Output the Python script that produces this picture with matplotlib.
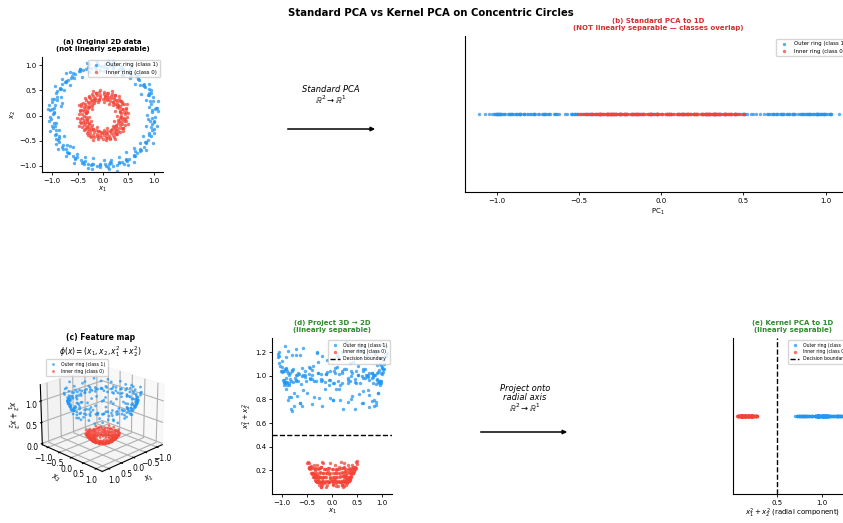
import numpy as np
import matplotlib
matplotlib.use("Agg")
import matplotlib.pyplot as plt

# hand-read points of the two rings (panel a)
outer_x1 = [1.03, 0.97, 1.04, 0.93, 0.98, 0.88, 0.90, 0.79, 0.80, 0.68, 0.66, 0.55, 0.52, 0.40, 0.36, 0.24, 0.19, 0.06,
            0.02, -0.10, -0.15, -0.28, -0.33, -0.45, -0.47, -0.60, -0.62, -0.73, -0.74, -0.85, -0.84, -0.93, -0.91, -1.00,
            -0.96, -1.05, -0.98, -1.02, -0.95, -0.99, -0.92, -0.87, -0.89, -0.78, -0.79, -0.69, -0.67, -0.55, -0.52, -0.41,
            -0.36, -0.23, -0.20, -0.05, 0.03, 0.10, 0.15, 0.28, 0.31, 0.45, 0.48, 0.60, 0.61, 0.74, 0.73, 0.84, 0.85, 0.94,
            0.91, 1.00, 0.96, 1.01,
            0.96, 1.02, 0.95, 0.99, 0.90, 0.91, 0.82, 0.81, 0.71, 0.69, 0.62, 0.52, 0.47, 0.37, 0.32, 0.20, 0.14, 0.03,
            -0.04, -0.12, -0.23, -0.29, -0.40, -0.45, -0.55, -0.61, -0.68, -0.72, -0.81, -0.83, -0.90, -0.90, -0.97, -0.95,
            -1.01, -0.97, -1.04, -0.97, -1.00, -0.93, -0.95, -0.86, -0.86, -0.80, -0.72, -0.70, -0.59, -0.55, -0.44, -0.40,
            -0.29, -0.22, -0.12, -0.06, 0.05, 0.12, 0.20, 0.31, 0.37, 0.46, 0.52, 0.62, 0.66, 0.72, 0.80, 0.82, 0.89, 0.90,
            0.97, 0.95, 1.00, 0.97,
            0.87, 1.09, 0.91, 1.08, 0.84, 0.95, 0.74, 0.90, 0.72, 0.62, 0.70, 0.53, 0.56, 0.38, 0.36, 0.22, 0.19, 0.08,
            0.02, -0.11, -0.14, -0.31, -0.27, -0.46, -0.41, -0.65, -0.58, -0.64, -0.80, -0.77, -0.95, -0.83, -1.01, -0.80,
            -1.06, -0.96,
            -0.89, -1.07, -0.93, -1.05, -0.86, -0.92, -0.76, -0.88, -0.70, -0.64, -0.73, -0.51, -0.58, -0.36, -0.38, -0.20,
            -0.21, -0.06,
            0.02, 0.11, 0.14, 0.27, 0.32, 0.42, 0.45, 0.61, 0.62, 0.60, 0.85, 0.73, 0.99, 0.79, 1.01, 0.84, 1.06, 0.92,
            -0.83, -0.60, 0.88, 0.15, -0.05, 0.40, -1.08, 1.07, -0.72, -0.92, 0.95, 0.50, -0.30, 0.10]
outer_x2 = [-0.02, 0.11, 0.15, 0.28, 0.36, 0.40, 0.53, 0.60, 0.62, 0.74, 0.79, 0.80, 0.90, 0.93, 0.91, 1.00, 0.95, 1.03,
            0.97, 1.01, 0.96, 1.02, 0.92, 0.88, 0.89, 0.84, 0.74, 0.69, 0.66, 0.55, 0.52, 0.44, 0.31, 0.27, 0.15, 0.10,
            0.03, -0.06, -0.20, -0.24, -0.37, -0.41, -0.48, -0.58, -0.66, -0.74, -0.75, -0.84, -0.83, -0.94, -0.91, -0.98,
            -0.96, -1.02, -0.97, -1.03, -0.95, -0.99, -0.92, -0.88, -0.90, -0.80, -0.78, -0.69, -0.66, -0.55, -0.53, -0.41,
            -0.35, -0.27, -0.16, -0.10,
            0.06, 0.12, 0.23, 0.29, 0.40, 0.45, 0.56, 0.59, 0.70, 0.72, 0.82, 0.86, 0.85, 0.95, 0.93, 0.99, 1.00, 1.02,
            0.98, 1.00, 0.95, 0.97, 0.90, 0.93, 0.83, 0.79, 0.70, 0.66, 0.63, 0.52, 0.48, 0.37, 0.32, 0.20,
            0.12, 0.06, -0.03, -0.15, -0.21, -0.29, -0.39, -0.45, -0.52, -0.63, -0.67, -0.72, -0.81, -0.86, -0.89, -0.92,
            -0.97, -0.96, -1.00, -0.98, -1.01, -0.97, -1.00, -0.94, -0.93, -0.86, -0.86, -0.81, -0.74, -0.70, -0.62, -0.52,
            -0.48, -0.39, -0.29, -0.23, -0.12, -0.05,
            0.01, 0.09, 0.16, 0.29, 0.30, 0.44, 0.43, 0.63, 0.60, 0.62, 0.83, 0.75, 0.97, 0.81, 0.99, 0.82, 1.08, 0.94,
            0.89, 1.06, 0.93, 1.05, 0.86, 0.93, 0.77, 0.87, 0.74, 0.60, 0.73, 0.51, 0.59, 0.36, 0.33, 0.25, 0.21, 0.05,
            -0.02, -0.11, -0.14, -0.31, -0.28, -0.47, -0.41, -0.66, -0.58, -0.60, -0.80, -0.77, -0.95, -0.83, -0.97, -0.84,
            -1.06, -0.96,
            -0.89, -1.07, -0.93, -1.10, -0.82, -0.97, -0.72, -0.92, -0.70, -0.64, -0.68, -0.55, -0.54, -0.40, -0.34, -0.20,
            -0.21, -0.10,
            0.18, -0.62, -0.07, -0.88, 0.90, 0.82, 0.12, 0.15, 0.84, -0.56, 0.50, -0.98, -1.05, 1.08]
inner_x1 = [0.44, 0.36, 0.42, 0.37, 0.40, 0.33, 0.37, 0.30, 0.33, 0.26, 0.28, 0.21, 0.22, 0.15, 0.16, 0.08, 0.09, 0.01,
            0.03, -0.06, -0.05, -0.12, -0.15, -0.19, -0.18, -0.25, -0.24, -0.30, -0.28, -0.35, -0.33, -0.38, -0.36, -0.41,
            -0.37, -0.42, -0.38, -0.41, -0.37, -0.40, -0.35, -0.38, -0.32, -0.34, -0.28, -0.30, -0.24, -0.25, -0.18, -0.19,
            -0.12, -0.11, -0.05, -0.04, 0.02, 0.05, 0.08, 0.12, 0.15, 0.19, 0.21, 0.25, 0.25, 0.30, 0.29, 0.35, 0.33, 0.38,
            0.36, 0.41, 0.37, 0.42,
            0.35, 0.46, 0.34, 0.45, 0.32, 0.42, 0.29, 0.36, 0.24, 0.31, 0.20, 0.24, 0.14, 0.18, 0.10, 0.10, 0.04, 0.02,
            -0.01, -0.07, -0.08, -0.14, -0.13, -0.22, -0.18, -0.28, -0.22, -0.34, -0.27, -0.40, -0.29, -0.44, -0.32, -0.46,
            -0.33, -0.47, -0.33, -0.46, -0.32, -0.44, -0.31, -0.42, -0.27, -0.37, -0.23, -0.32, -0.19, -0.25, -0.14, -0.17,
            -0.09, -0.09, -0.03, -0.01, 0.02, 0.07, 0.07, 0.14, 0.13, 0.21, 0.17, 0.28, 0.21, 0.34, 0.26, 0.39, 0.29, 0.43,
            0.32, 0.45, 0.33, 0.47,
            0.28, 0.50, 0.33, 0.45, 0.24, 0.47, 0.27, 0.37, 0.28, 0.20, 0.32, 0.19, 0.24, 0.11, 0.18, 0.08, 0.08, 0.03,
            0.01, -0.05, -0.07, -0.13, -0.10, -0.20, -0.17, -0.27, -0.21, -0.22, -0.36, -0.28, -0.43, -0.22, -0.47, -0.31,
            -0.45, -0.34,
            -0.27, -0.51, -0.32, -0.46, -0.23, -0.48, -0.28, -0.35, -0.29, -0.21, -0.30, -0.20, -0.23, -0.12, -0.19, -0.07,
            -0.09, -0.02,
            0.02, 0.05, 0.06, 0.14, 0.08, 0.23, 0.15, 0.25, 0.24, 0.19, 0.39, 0.26, 0.40, 0.22, 0.50, 0.29, 0.44, 0.35]
inner_x2 = [0.02, 0.05, 0.06, 0.13, 0.12, 0.19, 0.22, 0.21, 0.28, 0.30, 0.28, 0.36, 0.32, 0.39, 0.35, 0.41, 0.37, 0.42,
            0.38, 0.41, 0.37, 0.40, 0.35, 0.38, 0.33, 0.34, 0.29, 0.27, 0.24, 0.22, 0.18, 0.17, 0.12, 0.10, 0.08, 0.02,
            -0.01, -0.05, -0.09, -0.12, -0.15, -0.18, -0.21, -0.24, -0.27, -0.30, -0.29, -0.35, -0.33, -0.38, -0.36, -0.41,
            -0.38, -0.42, -0.38, -0.42, -0.37, -0.40, -0.35, -0.39, -0.33, -0.35, -0.29, -0.30, -0.24, -0.24, -0.18, -0.17,
            -0.12, -0.11, -0.06, -0.04,
            0.00, 0.07, 0.09, 0.15, 0.14, 0.22, 0.18, 0.29, 0.23, 0.33, 0.27, 0.40, 0.29, 0.43, 0.32, 0.45, 0.33, 0.46,
            0.33, 0.46, 0.32, 0.44, 0.30, 0.42, 0.28, 0.37, 0.23, 0.31, 0.19, 0.25, 0.14, 0.18, 0.09, 0.11,
            0.04, 0.03, -0.02, -0.07, -0.08, -0.15, -0.13, -0.22, -0.17, -0.29, -0.22, -0.34, -0.26, -0.40, -0.29, -0.43,
            -0.31, -0.46, -0.33, -0.46, -0.32, -0.45, -0.31, -0.44, -0.30, -0.42, -0.27, -0.37, -0.23, -0.32, -0.20, -0.25,
            -0.14, -0.18, -0.10, -0.10, -0.04, -0.02,
            0.00, 0.04, 0.06, 0.12, 0.09, 0.22, 0.16, 0.26, 0.23, 0.20, 0.38, 0.27, 0.41, 0.23, 0.49, 0.30, 0.44, 0.36,
            0.27, 0.51, 0.31, 0.44, 0.26, 0.48, 0.25, 0.38, 0.30, 0.19, 0.34, 0.17, 0.22, 0.12, 0.20, 0.07, 0.09, 0.04,
            -0.02, -0.05, -0.07, -0.13, -0.10, -0.21, -0.15, -0.27, -0.22, -0.19, -0.39, -0.26, -0.42, -0.22, -0.48, -0.31,
            -0.43, -0.35,
            -0.29, -0.49, -0.34, -0.46, -0.25, -0.46, -0.28, -0.36, -0.27, -0.21, -0.31, -0.18, -0.24, -0.10, -0.17, -0.09,
            -0.07, -0.03]

BLUE = "#2196F3"
RED = "#F44336"
GREEN = "#2E8B2E"

outer = np.column_stack([outer_x1, outer_x2])
inner = np.column_stack([inner_x1, inner_x2])
r2_outer = outer[:, 0] ** 2 + outer[:, 1] ** 2
r2_inner = inner[:, 0] ** 2 + inner[:, 1] ** 2

# standard PCA on the raw 2D points
X = np.vstack([outer, inner])
Xc = X - X.mean(axis=0)
_, _, vt = np.linalg.svd(Xc, full_matrices=False)
pc = Xc @ vt[0]
if pc[np.argmin(X[:, 0])] > 0:
    pc = -pc
pc_outer = pc[:len(outer)]
pc_inner = pc[len(outer):]

W, H = 843, 523
fig = plt.figure(figsize=(W / 100, H / 100), dpi=100)


def box(l, t, r, b):
    return [l / W, (H - b) / H, (r - l) / W, (b - t) / H]


def style(ax):
    ax.spines["top"].set_visible(False)
    ax.spines["right"].set_visible(False)
    ax.tick_params(labelsize=5, length=2.5, width=0.6, pad=1.5)
    for s in ("left", "bottom"):
        ax.spines[s].set_linewidth(0.8)


def small_legend(ax, loc, size=3.3, **kw):
    ax.legend(loc=loc, fontsize=size, borderpad=0.5, labelspacing=0.4, **kw)


fig.suptitle("Standard PCA vs Kernel PCA on Concentric Circles", fontsize=7.3, fontweight="bold",
             x=0.511, y=0.985)

# (a)
ax = fig.add_axes(box(42, 57, 163, 172))
ax.scatter(outer[:, 0], outer[:, 1], s=6, c=BLUE, alpha=0.75, lw=0, label="Outer ring (class 1)")
ax.scatter(inner[:, 0], inner[:, 1], s=6, c=RED, alpha=0.75, lw=0, label="Inner ring (class 0)")
ax.set_xlim(-1.2, 1.18)
ax.set_ylim(-1.12, 1.16)
ax.set_xticks([-1.0, -0.5, 0.0, 0.5, 1.0])
ax.set_yticks([-1.0, -0.5, 0.0, 0.5, 1.0])
ax.set_xlabel("$x_1$", fontsize=5, labelpad=1)
ax.set_ylabel("$x_2$", fontsize=5, labelpad=1)
ax.set_title("(a) Original 2D data\n(not linearly separable)", fontsize=5, fontweight="bold", pad=4)
small_legend(ax, "upper right", size=3.9)
style(ax)

# arrow top
ax = fig.add_axes(box(270, 80, 400, 150))
ax.axis("off")
ax.set_xlim(0, 1)
ax.set_ylim(0, 1)
ax.annotate("", xy=(0.83, 0.3), xytext=(0.115, 0.3),
            arrowprops=dict(arrowstyle="-|>", color="black", lw=1.1, mutation_scale=6))
ax.text(0.47, 0.63, "Standard PCA\n$\\mathbb{R}^2 \\rightarrow \\mathbb{R}^1$", ha="center", va="bottom",
        fontsize=6, style="italic", linespacing=1.0)

# (b)
ax = fig.add_axes(box(465, 36, 851, 192))
ax.scatter(pc_outer, np.zeros_like(pc_outer), s=6, c=BLUE, alpha=0.75, lw=0, label="Outer ring (class 1)")
ax.scatter(pc_inner, np.zeros_like(pc_inner), s=6, c=RED, alpha=0.75, lw=0, label="Inner ring (class 0)")
ax.set_xlim(-1.195, 1.155)
ax.set_ylim(-1, 1)
ax.set_yticks([])
ax.set_xticks([-1.0, -0.5, 0.0, 0.5, 1.0])
ax.set_xlabel("PC$_1$", fontsize=5, labelpad=2)
ax.set_title("(b) Standard PCA to 1D\n(NOT linearly separable — classes overlap)", fontsize=5, fontweight="bold",
             color="#D32F2F", pad=4)
small_legend(ax, "upper right", size=3.9)
style(ax)

# (c) 3D feature map
ax = fig.add_axes(box(23, 350, 178, 484), projection="3d")
ax.scatter(outer[:, 0], outer[:, 1], r2_outer, s=4, c=BLUE, alpha=0.75, lw=0, label="Outer ring (class 1)")
ax.scatter(inner[:, 0], inner[:, 1], r2_inner, s=4, c=RED, alpha=0.75, lw=0, label="Inner ring (class 0)")
ax.view_init(elev=22, azim=45)
ax.set_xticks([-1.0, -0.5, 0.0, 0.5, 1.0])
ax.set_yticks([-1.0, -0.5, 0.0, 0.5, 1.0])
ax.set_zticks([0.0, 0.5, 1.0])
ax.tick_params(labelsize=5.5, pad=-4)
ax.set_xlabel("$x_1$", fontsize=5.5, labelpad=-9)
ax.set_ylabel("$x_2$", fontsize=5.5, labelpad=-9)
ax.set_zlabel("$x_1^2 + x_2^2$", fontsize=5.5, labelpad=-9)
ax.set_title("(c) Feature map\n$\\phi(x) = (x_1, x_2, x_1^2 + x_2^2)$", fontsize=5.5, fontweight="bold",
             y=1.05, pad=0)
small_legend(ax, "upper left", bbox_to_anchor=(0.095, 0.93), borderaxespad=0)

# (d)
ax = fig.add_axes(box(272, 338, 392, 494))
ax.scatter(outer[:, 0], r2_outer, s=6, c=BLUE, alpha=0.75, lw=0, label="Outer ring (class 1)")
ax.scatter(inner[:, 0], r2_inner, s=6, c=RED, alpha=0.75, lw=0, label="Inner ring (class 0)")
ax.axhline(0.5, color="black", ls="--", lw=1.0, label="Decision boundary")
ax.set_xlim(-1.2, 1.2)
ax.set_ylim(0.0, 1.32)
ax.set_xticks([-1.0, -0.5, 0.0, 0.5, 1.0])
ax.set_yticks([0.2, 0.4, 0.6, 0.8, 1.0, 1.2])
ax.set_xlabel("$x_1$", fontsize=5, labelpad=1)
ax.set_ylabel("$x_1^2 + x_2^2$", fontsize=5, labelpad=1)
ax.set_title("(d) Project 3D → 2D\n(linearly separable)", fontsize=5, fontweight="bold", color=GREEN, pad=4)
small_legend(ax, "upper right")
style(ax)

# arrow bottom
ax = fig.add_axes(box(460, 360, 590, 450))
ax.axis("off")
ax.set_xlim(0, 1)
ax.set_ylim(0, 1)
ax.annotate("", xy=(0.846, 0.2), xytext=(0.138, 0.2),
            arrowprops=dict(arrowstyle="-|>", color="black", lw=1.1, mutation_scale=6))
ax.text(0.5, 0.4, "Project onto\nradial axis\n$\\mathbb{R}^2 \\rightarrow \\mathbb{R}^1$", ha="center", va="bottom",
        fontsize=6, style="italic", linespacing=1.0)

# (e)
ax = fig.add_axes(box(733, 338, 852, 494))
ax.scatter(r2_outer, np.zeros_like(r2_outer), s=6, c=BLUE, alpha=0.75, lw=0, label="Outer ring (class 1)")
ax.scatter(r2_inner, np.zeros_like(r2_inner), s=6, c=RED, alpha=0.75, lw=0, label="Inner ring (class 0)")
ax.axvline(0.5, color="black", ls="--", lw=1.0, label="Decision boundary")
ax.set_xlim(0.01, 1.333)
ax.set_ylim(-1, 1)
ax.set_yticks([])
ax.set_xticks([0.5, 1.0])
ax.set_xlabel("$x_1^2 + x_2^2$ (radial component)", fontsize=5, labelpad=1)
ax.set_title("(e) Kernel PCA to 1D\n(linearly separable)", fontsize=5, fontweight="bold", color=GREEN, pad=4)
small_legend(ax, "upper right")
style(ax)

fig.savefig("out.png", dpi=100)
